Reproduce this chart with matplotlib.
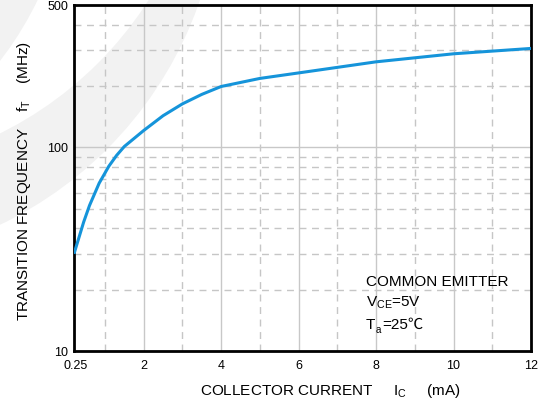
import numpy as np
import matplotlib.pyplot as plt
from matplotlib.patches import Circle
from matplotlib.ticker import FixedLocator, NullFormatter

plt.rcParams['font.family'] = ['Liberation Sans', 'Noto Sans CJK SC', 'DejaVu Sans']
plt.rcParams['mathtext.fontset'] = 'custom'
plt.rcParams['mathtext.rm'] = 'Liberation Sans'
plt.rcParams['mathtext.it'] = 'Liberation Sans'

# fT vs Ic curve (common emitter, VCE = 5 V, Ta = 25 C)
ic_ma = [0.2, 0.45, 0.6, 0.85, 1.1, 1.3, 1.5, 2, 2.5, 3, 3.5, 4, 5, 6, 8, 10, 12]
ft_mhz = [30, 43, 51.8, 66.7, 80.8, 91.3, 101, 121, 143, 163.5, 182, 199, 218, 232, 263, 288, 306]

x_ticks = [0.25, 2, 4, 6, 8, 10, 12]
x_tick_labels = ['0.25', '2', '4', '6', '8', '10', '12']
x_minor = [1, 3, 5, 7, 9, 11]
y_ticks = [10, 100, 500]
y_tick_labels = ['10', '100', '500']
y_minor = [20, 30, 40, 50, 60, 70, 80, 90, 200, 300, 400]

W, H = 545, 400
fig = plt.figure(figsize=(W / 100, H / 100), dpi=100)

# faint logo arcs in the background (pixel space)
bg = fig.add_axes([0, 0, 1, 1], zorder=0)
bg.set_xlim(0, W)
bg.set_ylim(H, 0)
bg.axis('off')
bg.add_patch(Circle((-168, -126), 389, color='#f2f2f2', lw=0))
bg.add_patch(Circle((-165, -200), 372, color='white', lw=0))
bg.add_patch(Circle((-273, -150), 345, color='#f2f2f2', lw=0))

ax = fig.add_axes([74 / W, 1 - 351 / H, (531 - 74) / W, (351 - 5) / H], zorder=1)
ax.set_facecolor('none')

ax.plot(ic_ma, ft_mhz, color='#1594da', lw=2.2, solid_capstyle='butt', zorder=3)

ax.set_yscale('log')
ax.set_xlim(0.2, 12)
ax.set_ylim(10, 500)

ax.set_xticks(x_ticks)
ax.set_xticklabels(x_tick_labels)
ax.xaxis.set_minor_locator(FixedLocator(x_minor))
ax.yaxis.set_major_locator(FixedLocator(y_ticks))
ax.set_yticklabels(y_tick_labels)
ax.yaxis.set_minor_locator(FixedLocator(y_minor))
ax.yaxis.set_minor_formatter(NullFormatter())

ax.grid(which='major', color='#c8c8c8', lw=1.0, ls='-')
ax.grid(which='minor', color='#c6c6c6', lw=1.0, ls=(0, (5, 4)))
xgl = ax.xaxis.get_gridlines()
xgl[0].set_visible(False)
xgl[-1].set_visible(False)
ax.set_axisbelow(True)

ax.tick_params(which='both', length=0, labelsize=9, colors='black')
ax.tick_params(axis='x', pad=6.5)
ax.tick_params(axis='y', pad=4)
for s in ax.spines.values():
    s.set_linewidth(2)
    s.set_color('black')

# condition note
ax.text(0.639, 0.188, 'COMMON EMITTER', transform=ax.transAxes,
        fontsize=11, va='baseline', ha='left')
ax.text(0.639, 0.128, r'V$_\mathregular{CE}$=5V', transform=ax.transAxes,
        fontsize=11, va='baseline', ha='left')
ax.text(0.639, 0.065, 'T', transform=ax.transAxes, fontsize=11, va='baseline', ha='left')
ax.text(0.659, 0.052, 'a', transform=ax.transAxes, fontsize=7, va='baseline', ha='left')
ax.text(0.675, 0.065, '=25℃', transform=ax.transAxes, fontsize=11, va='baseline', ha='left')

fig.text(0.607, 0.0125, r'COLLECTOR CURRENT     $\mathregular{I_C}$     (mA)',
         fontsize=11, ha='center', va='baseline')
fig.text(0.044, 0.5475, r'TRANSITION FREQUENCY    $\mathregular{f_T}$    (MHz)',
         fontsize=11, ha='center', va='center', rotation=90)

fig.savefig('out.png', dpi=100)
